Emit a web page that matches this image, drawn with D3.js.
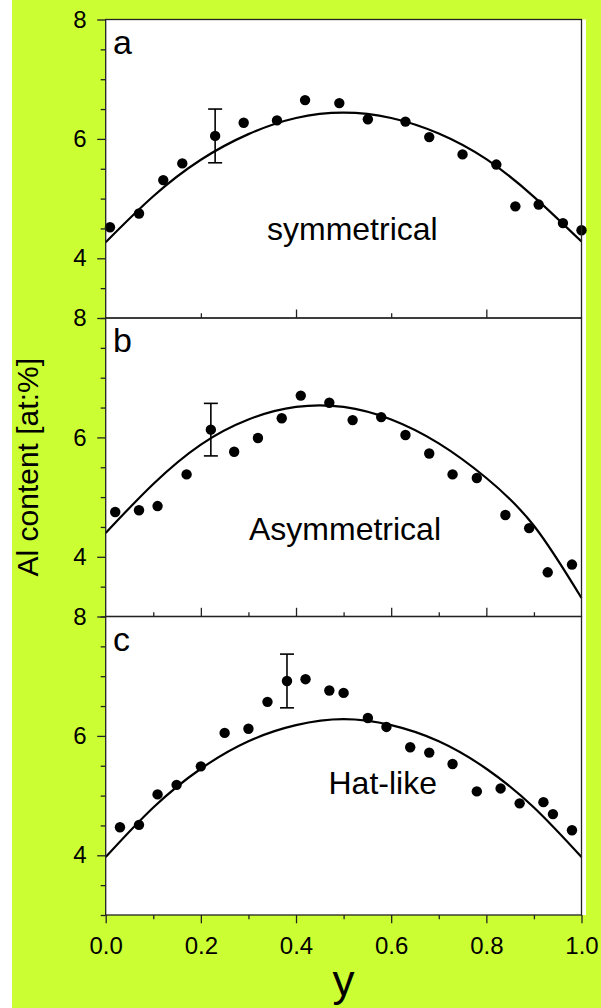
<!DOCTYPE html>
<html>
<head>
<meta charset="utf-8">
<script src="https://cdn.jsdelivr.net/npm/d3@7"></script>
<style>
  html, body { margin: 0; padding: 0; background: #ccff33; }
  svg { display: block; }
  text { font-family: "Liberation Sans", Arial, Helvetica, sans-serif; fill: #000; }
</style>
</head>
<body>
<svg id="chart" width="601" height="1008"></svg>
<script>
// Al content profiles across y, three shapes
const panelNames = ["a", "b", "c"];
const shapeLabels = ["symmetrical", "Asymmetrical", "Hat-like"];

// measured points, panel a
const xA = [0.009, 0.070, 0.121, 0.161, 0.230, 0.290, 0.360, 0.419, 0.491, 0.551, 0.630, 0.680, 0.750, 0.821, 0.861, 0.910, 0.961, 1.000];
const vA = [4.52, 4.75, 5.31, 5.59, 6.05, 6.27, 6.31, 6.65, 6.60, 6.33, 6.29, 6.03, 5.74, 5.57, 4.87, 4.90, 4.59, 4.47];
// measured points, panel b
const xB = [0.020, 0.070, 0.109, 0.170, 0.221, 0.270, 0.320, 0.370, 0.410, 0.470, 0.519, 0.579, 0.630, 0.680, 0.729, 0.780, 0.840, 0.890, 0.929, 0.980];
const vB = [4.75, 4.78, 4.85, 5.38, 6.13, 5.76, 5.99, 6.32, 6.70, 6.58, 6.29, 6.34, 6.04, 5.73, 5.38, 5.32, 4.70, 4.48, 3.74, 3.87];
// measured points, panel c
const xC = [0.030, 0.070, 0.109, 0.149, 0.200, 0.250, 0.300, 0.340, 0.381, 0.420, 0.470, 0.500, 0.551, 0.590, 0.640, 0.680, 0.729, 0.780, 0.830, 0.870, 0.920, 0.940, 0.980];
const vC = [4.47, 4.51, 5.02, 5.18, 5.49, 6.05, 6.12, 6.57, 6.92, 6.95, 6.76, 6.72, 6.30, 6.15, 5.81, 5.72, 5.53, 5.07, 5.12, 4.87, 4.89, 4.69, 4.42];

// fitted profile lines
const fitX  = [0, 0.1, 0.2, 0.3, 0.4, 0.5, 0.6, 0.7, 0.8, 0.9, 1.0];
const fitA  = [4.27, 5.04, 5.65, 6.08, 6.35, 6.44, 6.35, 6.09, 5.66, 5.03, 4.28];
const fitB  = [4.40, 5.22, 5.88, 6.30, 6.51, 6.51, 6.30, 5.90, 5.32, 4.52, 3.31];
const fitC  = [3.97, 4.80, 5.45, 5.91, 6.18, 6.28, 6.18, 5.91, 5.45, 4.80, 3.97];

// one error bar per panel: index of the point and half-width
const errIndex = [4, 4, 8];
const errHalf  = [0.45, 0.44, 0.45];

// axis ticks
const yMajor = [4, 6, 8];
const yMinor = [3, 3.5, 4.5, 5, 5.5, 6.5, 7, 7.5];
const xMajor = [0, 0.2, 0.4, 0.6, 0.8, 1.0];
const xMinor = [0.1, 0.3, 0.5, 0.7, 0.9];
const xTopABMajor = [0.4, 0.8];
const xTopABMinor = [0.2, 0.6];
const xTopBCMajor = [0.2, 0.4, 0.6, 0.8];
const xTopBCMinor = [0.1, 0.3, 0.5, 0.7, 0.9];

const panels = [
  { name: panelNames[0], label: shapeLabels[0], xs: xA, vs: vA, fit: fitA, labelX: 267, labelDy: 220 },
  { name: panelNames[1], label: shapeLabels[1], xs: xB, vs: vB, fit: fitB, labelX: 249, labelDy: 222 },
  { name: panelNames[2], label: shapeLabels[2], xs: xC, vs: vC, fit: fitC, labelX: 328.5, labelDy: 177 }
];

const W = 601, H = 1008;
const plotLeft = 105.7, plotRight = 581.5, plotTop = 19.5, panelH = 298.5;
const plotBottom = plotTop + 3 * panelH;

const svg = d3.select("#chart");

// backgrounds
svg.append("rect").attr("x", 0).attr("y", 0).attr("width", W).attr("height", H).attr("fill", "#ccff33");
svg.append("rect").attr("x", 0).attr("y", 0).attr("width", 12).attr("height", H).attr("fill", "#ffffff");
svg.append("rect").attr("x", plotLeft).attr("y", plotTop).attr("width", 586 - plotLeft).attr("height", plotBottom - plotTop).attr("fill", "#ffffff");

const x = d3.scaleLinear().domain([0, 1]).range([plotLeft, plotRight]);
const line = d3.line().curve(d3.curveNatural);

panels.forEach((p, k) => {
  const y0 = plotTop + k * panelH;
  const y = d3.scaleLinear().domain([3, 8]).range([y0 + panelH, y0]);
  const g = svg.append("g");

  // fitted line
  g.append("path")
    .attr("d", line(fitX.map((xv, i) => [x(xv), y(p.fit[i])])))
    .attr("fill", "none").attr("stroke", "#000").attr("stroke-width", 2.2);

  // error bar
  const ei = errIndex[k], eh = errHalf[k];
  const ex = x(p.xs[ei]);
  const eg = g.append("g").attr("stroke", "#000").attr("stroke-width", 1.6);
  eg.append("line").attr("x1", ex).attr("x2", ex).attr("y1", y(p.vs[ei] + eh)).attr("y2", y(p.vs[ei] - eh));
  [p.vs[ei] + eh, p.vs[ei] - eh].forEach(v => {
    eg.append("line").attr("x1", ex - 7).attr("x2", ex + 7).attr("y1", y(v)).attr("y2", y(v));
  });

  // points
  g.selectAll("circle.pt").data(p.xs.map((xv, i) => [xv, p.vs[i]])).enter()
    .append("circle").attr("class", "pt")
    .attr("cx", d => x(d[0])).attr("cy", d => y(d[1])).attr("r", 5.2).attr("fill", "#000");

  // y axis ticks
  const yMaj = svg.append("g").attr("transform", `translate(${plotLeft},0)`)
    .call(d3.axisLeft(y).tickValues(yMajor).tickSize(8.5).tickPadding(10.5).tickFormat(d3.format("d")));
  yMaj.select(".domain").remove();
  yMaj.selectAll("text").style("font-size", "24px").attr("font-family", null);
  const yMin = svg.append("g").attr("transform", `translate(${plotLeft},0)`)
    .call(d3.axisLeft(y).tickValues(yMinor).tickSize(5).tickFormat(""));
  yMin.select(".domain").remove();

  // panel letter and shape label
  svg.append("text").attr("x", 113).attr("y", y0 + 34).style("font-size", "34px").text(p.name);
  svg.append("text").attr("x", p.labelX).attr("y", y0 + p.labelDy).style("font-size", "32px").text(p.label);
});

// x ticks on the panel boundaries
const xTickSets = [
  { ypos: plotTop + panelH, maj: xTopABMajor, min: xTopABMinor, majLen: 8.5, minLen: 4.7 },
  { ypos: plotTop + 2 * panelH, maj: xTopBCMajor, min: xTopBCMinor, majLen: 8.7, minLen: 4.3 }
];
xTickSets.forEach(s => {
  const a1 = svg.append("g").attr("transform", `translate(0,${s.ypos})`)
    .call(d3.axisTop(x).tickValues(s.maj).tickSize(s.majLen).tickFormat(""));
  a1.select(".domain").remove();
  const a2 = svg.append("g").attr("transform", `translate(0,${s.ypos})`)
    .call(d3.axisTop(x).tickValues(s.min).tickSize(s.minLen).tickFormat(""));
  a2.select(".domain").remove();
});

// bottom x axis
const xb = svg.append("g").attr("transform", `translate(0,${plotBottom})`)
  .call(d3.axisBottom(x).tickValues(xMajor).tickSize(8.3).tickPadding(14).tickFormat(d3.format(".1f")));
xb.select(".domain").remove();
xb.selectAll("text").style("font-size", "24px").attr("font-family", null);
const xbm = svg.append("g").attr("transform", `translate(0,${plotBottom})`)
  .call(d3.axisBottom(x).tickValues(xMinor).tickSize(4.3).tickFormat(""));
xbm.select(".domain").remove();
svg.selectAll(".tick line").attr("stroke", "#222").attr("stroke-width", 1.3);

// panel frames
for (let k = 0; k < 3; k++) {
  svg.append("rect")
    .attr("x", plotLeft).attr("y", plotTop + k * panelH)
    .attr("width", plotRight - plotLeft).attr("height", panelH)
    .attr("fill", "none").attr("stroke", "#222").attr("stroke-width", 1.3);
}

// axis titles
svg.append("text").attr("x", x(0.5)).attr("y", 996).attr("text-anchor", "middle")
  .style("font-size", "44px").text("y");
svg.append("text").attr("transform", `translate(37.5,${(plotTop + plotBottom) / 2}) rotate(-90)`)
  .attr("text-anchor", "middle").style("font-size", "30px").text("Al content [at:%]");
</script>
</body>
</html>
